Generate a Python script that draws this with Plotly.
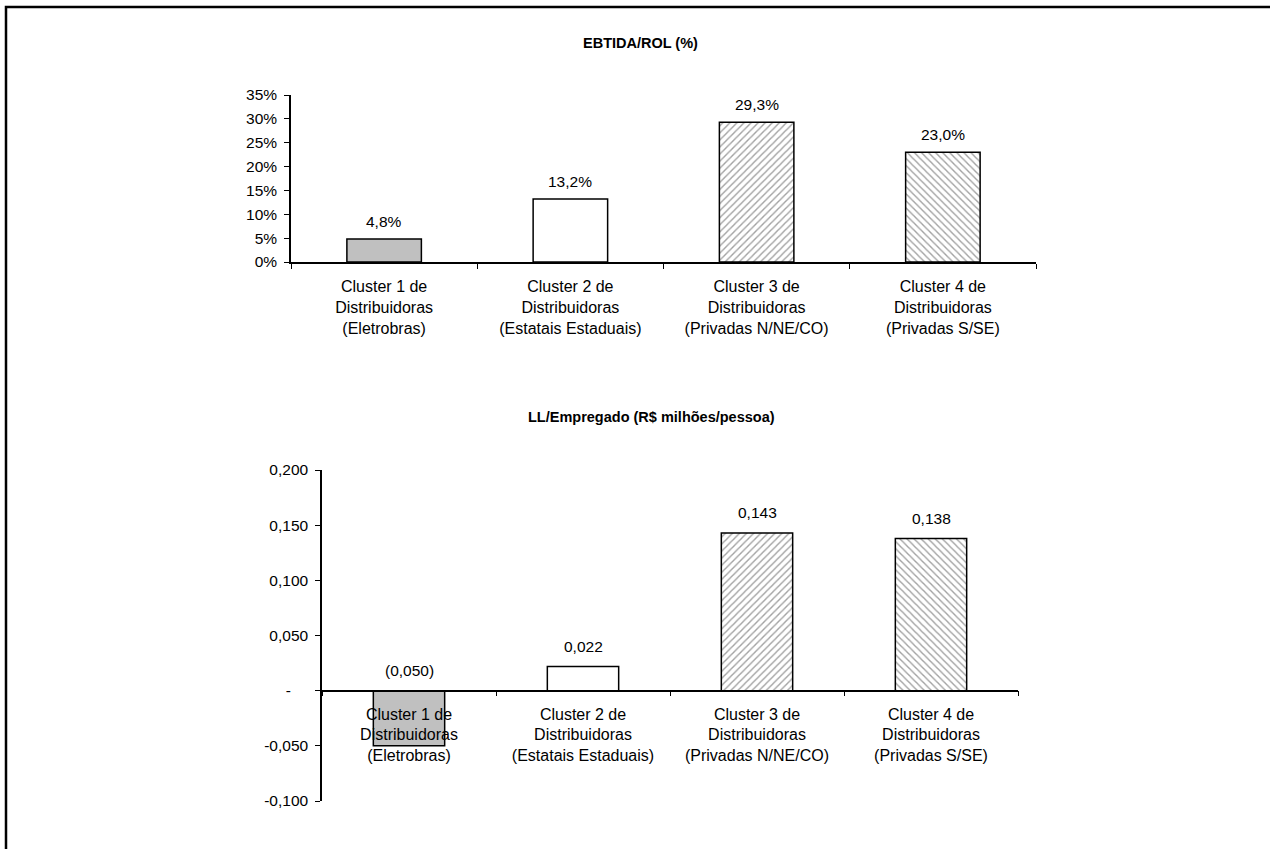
import plotly.graph_objects as go

categories = [
    "Cluster 1 de<br>Distribuidoras<br>(Eletrobras)",
    "Cluster 2 de<br>Distribuidoras<br>(Estatais Estaduais)",
    "Cluster 3 de<br>Distribuidoras<br>(Privadas N/NE/CO)",
    "Cluster 4 de<br>Distribuidoras<br>(Privadas S/SE)",
]
ebitda_rol = [4.8, 13.2, 29.3, 23.0]
ll_empregado = [-0.050, 0.022, 0.143, 0.138]

top_title = "EBTIDA/ROL (%)"
bottom_title = "LL/Empregado (R$ milhões/pessoa)"

top_tickvals = [0, 5, 10, 15, 20, 25, 30, 35]
top_ticktext = ["0%", "5%", "10%", "15%", "20%", "25%", "30%", "35%"]
bot_tickvals = [-0.10, -0.05, 0.0, 0.05, 0.10, 0.15, 0.20]
bot_ticktext = ["-0,100", "-0,050", "-\u00a0\u00a0\u00a0\u00a0", "0,050", "0,100", "0,150", "0,200"]

W, H = 1270, 849
FONT = "Liberation Sans, Arial, sans-serif"

fills = ["#c0c0c0", "#ffffff", "#ffffff", "#ffffff"]
shapes_pat = ["", "", "/", "\\"]


def px_x(p):
    return p / W


def px_y(p):
    return 1 - p / H


def fmt_pct(v):
    return f"{v:.1f}%".replace(".", ",")


def fmt_num(v):
    s = f"{abs(v):.3f}".replace(".", ",")
    return f"({s})" if v < 0 else s


marker = dict(
    color=fills,
    line=dict(color="black", width=1.5),
    pattern=dict(shape=shapes_pat, fgcolor="#c8c8c8", bgcolor="#ffffff",
                 size=5, solidity=0.28, fillmode="overlay"),
)

fig = go.Figure()
fig.add_trace(go.Bar(x=categories, y=ebitda_rol, marker=marker, width=0.4,
                     xaxis="x", yaxis="y", showlegend=False, hoverinfo="skip"))
fig.add_trace(go.Bar(x=categories, y=ll_empregado, marker=marker, width=0.41,
                     xaxis="x2", yaxis="y2", showlegend=False, hoverinfo="skip"))

top_yr = [0, 35]
bot_yr = [-0.10, 0.20]
top_yd = [px_y(262), px_y(95)]
bot_yd = [px_y(801), px_y(470)]
zero_pos = bot_yd[0] + (0 - bot_yr[0]) / (bot_yr[1] - bot_yr[0]) * (bot_yd[1] - bot_yd[0])

tickfont = dict(family=FONT, size=16, color="black")
ytickfont = dict(family=FONT, size=15.5, color="black")

annotations = []
for c, v in zip(categories, ebitda_rol):
    annotations.append(dict(x=c, y=max(v, 0), xref="x", yref="y", text=fmt_pct(v),
                            showarrow=False, yanchor="middle", yshift=18,
                            font=dict(family=FONT, size=15.5, color="black")))
for c, v in zip(categories, ll_empregado):
    annotations.append(dict(x=c, y=max(v, 0), xref="x2", yref="y2", text=fmt_num(v),
                            showarrow=False, yanchor="middle", yshift=20,
                            font=dict(family=FONT, size=15.5, color="black")))
annotations.append(dict(x=px_x(640), y=px_y(43), xref="paper", yref="paper", text=f"<b>{top_title}</b>",
                        showarrow=False, xanchor="center", yanchor="middle",
                        font=dict(family=FONT, size=14.5, color="black")))
annotations.append(dict(x=px_x(651), y=px_y(417), xref="paper", yref="paper", text=f"<b>{bottom_title}</b>",
                        showarrow=False, xanchor="center", yanchor="middle",
                        font=dict(family=FONT, size=14.5, color="black")))

fig.update_layout(
    width=W, height=H,
    margin=dict(l=0, r=0, t=0, b=0),
    paper_bgcolor="white", plot_bgcolor="white",
    font=dict(family=FONT, size=15, color="black"),
    xaxis=dict(domain=[px_x(291), px_x(1036)], anchor="y", showgrid=False,
               showline=True, linecolor="black", linewidth=1.5,
               ticks="outside", tickson="boundaries", ticklen=5, tickcolor="black",
               ticklabelstandoff=9,
               tickfont=tickfont, automargin=False, fixedrange=True),
    yaxis=dict(domain=top_yd, range=top_yr, anchor="x", showgrid=False, zeroline=False,
               showline=True, linecolor="black", linewidth=1.5,
               tickvals=top_tickvals, ticktext=top_ticktext,
               ticks="outside", ticklen=5, tickcolor="black", ticklabelstandoff=4,
               tickfont=ytickfont, automargin=False, fixedrange=True),
    xaxis2=dict(domain=[px_x(322), px_x(1018)], anchor="free", position=zero_pos,
                showgrid=False, showline=True, linecolor="black", linewidth=1.5,
                ticks="outside", tickson="boundaries", ticklen=5, tickcolor="black",
                ticklabelstandoff=9,
                tickfont=tickfont, automargin=False, fixedrange=True),
    yaxis2=dict(domain=bot_yd, range=bot_yr, anchor="x2", showgrid=False, zeroline=False,
                showline=True, linecolor="black", linewidth=1.5,
                tickvals=bot_tickvals, ticktext=bot_ticktext,
                ticks="outside", ticklen=5, tickcolor="black", ticklabelstandoff=4,
                tickfont=ytickfont, automargin=False, fixedrange=True),
    annotations=annotations,
    shapes=[dict(type="path", xref="paper", yref="paper",
                 path=f"M {px_x(6)} 0 L {px_x(6)} {px_y(7)} L 1 {px_y(7)}",
                 line=dict(color="black", width=2.5))],
    bargap=0.6,
)

fig.write_html("out.html", config={"displayModeBar": False},
               post_script="document.body.style.margin='0';document.body.style.overflow='hidden';")
